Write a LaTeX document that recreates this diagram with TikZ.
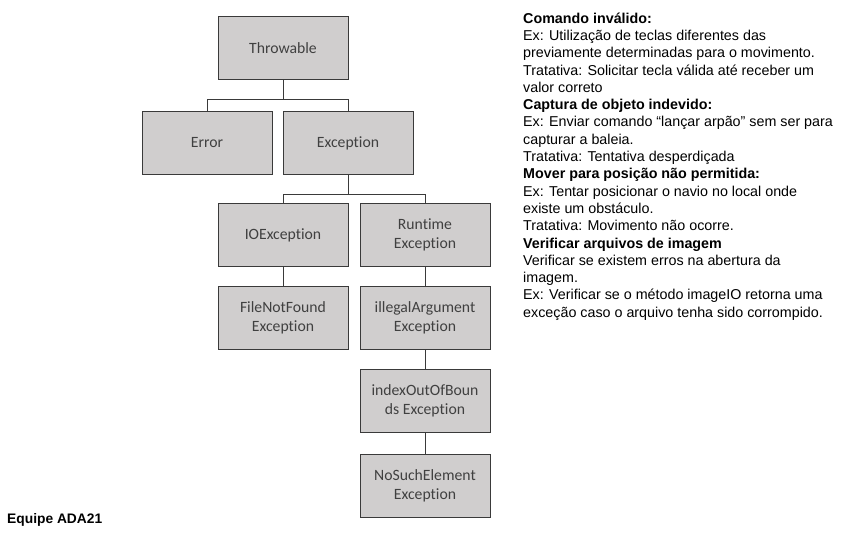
\documentclass[tikz,border=0pt]{standalone}
\usepackage{fontspec}
\setmainfont{Liberation Sans}
\newfontfamily\boxfont[Ligatures={NoCommon,NoContextual}]{Carlito}
\usepackage{xcolor}
\usetikzlibrary{positioning, calc}

\definecolor{boxgray}{HTML}{D0CECE}
\definecolor{boxline}{HTML}{3A3A3A}
\definecolor{boxtext}{HTML}{404040}

\begin{document}
\begin{tikzpicture}[
        x=1pt, y=-1pt,
        classbox/.style={rectangle, draw=boxline, line width=1pt, fill=boxgray, minimum width=130pt, minimum height=63pt, align=center, text=boxtext, font=\boxfont\fontsize{15.7}{19.5}\selectfont},
        link/.style={draw=boxline, line width=1pt}
    ]
    \useasboundingbox (0,0) rectangle (841,546);

    % 1. Hierarquia de exceções
    \node[classbox] (throwable) at (283,48) {Throwable};
    \node[classbox] (error) at (207,143) {Error};
    \node[classbox] (exception) at (348,143) {Exception};
    \node[classbox] (ioexc) at (283,235) {IOException};
    \node[classbox] (runtime) at (425,235) {Runtime\\Exception};
    \node[classbox, below=19pt of ioexc] (filenotfound) {FileNotFound\\Exception};
    \node[classbox, below=19pt of runtime] (illegalarg) {illegalArgument\\Exception};
    \node[classbox, below=19pt of illegalarg] (indexout) {indexOutOfBoun\\ds Exception};
    \node[classbox, below=21pt of indexout] (nosuch) {NoSuchElement\\Exception};

    % 2. Ligações em cotovelo
    \coordinate (bus1) at ($(throwable.south)+(0,19.5)$);
    \coordinate (bus2) at ($(exception.south)+(0,19)$);
    \draw[link] (throwable.south) -- (bus1) -| (error.north);
    \draw[link] (bus1) -| (exception.north);
    \draw[link] (exception.south) -- (bus2) -| (ioexc.north);
    \draw[link] (bus2) -| (runtime.north);
    \draw[link] (ioexc) -- (filenotfound);
    \draw[link] (runtime) -- (illegalarg);
    \draw[link] (illegalarg) -- (indexout);
    \draw[link] (indexout) -- (nosuch);

    % 3. Texto lateral
    \node[anchor=north west, inner sep=0pt, align=left, font=\fontsize{14.3}{17.3}\selectfont] (notes) at (523,12.5) {
        \textbf{Comando inválido:}\\
        Ex: Utilização de teclas diferentes das\\
        previamente determinadas para o movimento.\\
        Tratativa: Solicitar tecla válida até receber um\\
        valor correto\\
        \textbf{Captura de objeto indevido:}\\
        Ex: Enviar comando “lançar arpão” sem ser para\\
        capturar a baleia.\\
        Tratativa: Tentativa desperdiçada\\
        \textbf{Mover para posição não permitida:}\\
        Ex: Tentar posicionar o navio no local onde\\
        existe um obstáculo.\\
        Tratativa: Movimento não ocorre.\\
        \textbf{Verificar arquivos de imagem}\\
        Verificar se existem erros na abertura da\\
        imagem.\\
        Ex: Verificar se o método imageIO retorna uma\\
        exceção caso o arquivo tenha sido corrompido.
    };

    \node[anchor=base west, inner sep=0pt, font=\bfseries\fontsize{13.8}{16}\selectfont] (team) at (7,523) {Equipe ADA21};
\end{tikzpicture}
\end{document}
